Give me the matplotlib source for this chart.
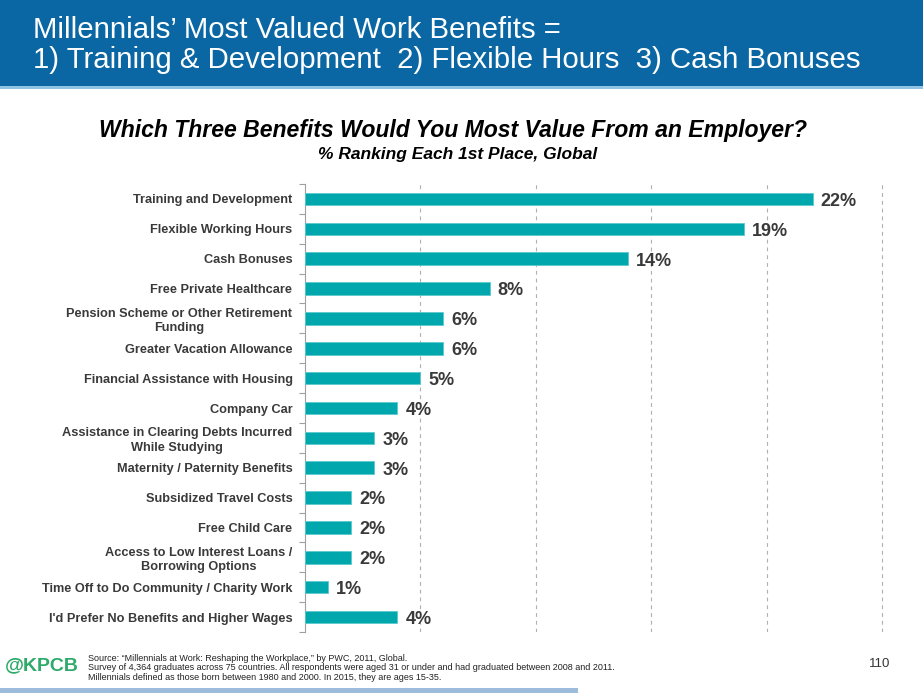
import matplotlib
matplotlib.use('Agg')
import matplotlib.pyplot as plt
from matplotlib.patches import Rectangle

plt.rcParams['font.family'] = ['Liberation Sans', 'DejaVu Sans']

# Survey data
benefits = [
    "Training and Development",
    "Flexible Working Hours",
    "Cash Bonuses",
    "Free Private Healthcare",
    "Pension Scheme or Other Retirement\nFunding",
    "Greater Vacation Allowance",
    "Financial Assistance with Housing",
    "Company Car",
    "Assistance in Clearing Debts Incurred\nWhile Studying",
    "Maternity / Paternity Benefits",
    "Subsidized Travel Costs",
    "Free Child Care",
    "Access to Low Interest Loans /\nBorrowing Options",
    "Time Off to Do Community / Charity Work",
    "I'd Prefer No Benefits and Higher Wages",
]
shares = [22, 19, 14, 8, 6, 6, 5, 4, 3, 3, 2, 2, 2, 1, 4]
gridTicks = [5, 10, 15, 20, 25]

barColor = '#00A8AE'
textColor = '#3A3A3A'
bannerColor = '#0A67A3'

fig = plt.figure(figsize=(9.23, 6.93), dpi=100)

# Header banner
fig.patches.append(Rectangle((0, 1 - 86 / 693), 1, 86 / 693, transform=fig.transFigure,
                             facecolor=bannerColor, edgecolor='none', zorder=0))
fig.patches.append(Rectangle((0, 1 - 89 / 693), 1, 3 / 693, transform=fig.transFigure,
                             facecolor='#8FC3E3', edgecolor='none', zorder=0))
fig.text(33 / 923, 1 - 30 / 693, "Millennials\u2019 Most Valued Work Benefits =",
         color='white', fontsize=21.2, va='center', ha='left')
fig.text(33 / 923, 1 - 60 / 693, "1) Training & Development  2) Flexible Hours  3) Cash Bonuses",
         color='white', fontsize=21.2, va='center', ha='left')

# Chart titles
fig.text(453 / 923, 1 - 131 / 693, "Which Three Benefits Would You Most Value From an Employer?",
         fontsize=16.6, fontweight='bold', fontstyle='italic', ha='center', va='center', color='black')
fig.text(458 / 923, 1 - 155 / 693, "% Ranking Each 1st Place, Global",
         fontsize=12.5, fontweight='bold', fontstyle='italic', ha='center', va='center', color='black')

# Bar chart
xmax = 25.1
ax = fig.add_axes([305 / 923, 1 - 632 / 693, (882 - 305) * xmax / 25 / 923, (632 - 184) / 693])
ypos = list(range(len(benefits)))
ax.barh(ypos, shares, height=0.42, color=barColor, edgecolor='#5CC9CD', linewidth=0.6, zorder=3)
ax.set_ylim(len(benefits) - 0.5, -0.5)
ax.set_xlim(0, xmax)

for y, v in zip(ypos, shares):
    ax.text(v + 0.35, y + 0.08, f"{v}%", fontsize=13, fontweight='bold', color=textColor,
            va='center', ha='left', zorder=4)

ax.set_yticks(ypos)
ax.set_yticklabels(benefits, fontsize=9.2, fontweight='bold', color=textColor,
                   multialignment='center', linespacing=1.25)
ax.tick_params(axis='y', which='major', length=0, pad=9)
ax.set_yticks([i - 0.5 for i in range(len(benefits) + 1)], minor=True)
ax.tick_params(axis='y', which='minor', length=4, color='#A0A0A0', width=0.8)

ax.set_xticks(gridTicks)
ax.tick_params(axis='x', length=0, labelbottom=False)
ax.grid(axis='x', linestyle=(0, (3.5, 3.5)), color='#B0B0B0', linewidth=0.8, zorder=0)

for side in ['top', 'right', 'bottom']:
    ax.spines[side].set_visible(False)
ax.spines['left'].set_color('#A0A0A0')
ax.spines['left'].set_linewidth(0.8)

# Footer
fig.text(5 / 923, 1 - 666 / 693, "@KPCB", color='#2EAA6A', fontsize=14, fontweight='bold',
         va='center', ha='left')
fig.text(88 / 923, 1 - 668 / 693,
         "Source: \u201cMillennials at Work: Reshaping the Workplace,\u201d by PWC, 2011, Global.\n"
         "Survey of 4,364 graduates across 75 countries. All respondents were aged 31 or under and had graduated between 2008 and 2011.\n"
         "Millennials defined as those born between 1980 and 2000. In 2015, they are ages 15-35.",
         fontsize=6.5, color='#222222', va='center', ha='left', linespacing=1.1)
fig.text(880 / 923, 1 - 664 / 693, "110", fontsize=9.5, color='#333333', va='center', ha='center')
fig.patches.append(Rectangle((0, 0), 578 / 923, 5 / 693, transform=fig.transFigure,
                             facecolor='#9DBBDA', edgecolor='none'))

fig.savefig('out.png', dpi=100)
